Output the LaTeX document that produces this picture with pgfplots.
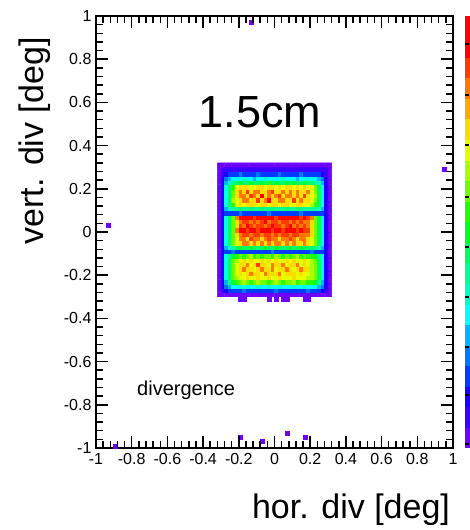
\documentclass[border=0pt]{standalone}
\usepackage{pgfplots}
\pgfplotsset{compat=1.18}
\usepackage{fontspec}
\setmainfont{Liberation Sans}
\definecolor{rootone}{RGB}{110,0,255}
\begin{document}
\begin{tikzpicture}
\useasboundingbox (0,0) rectangle (469pt,530pt);
\begin{axis}[
  at={(96pt,82pt)}, anchor=south west,
  scale only axis, width=357pt, height=432pt,
  xmin=-1, xmax=1, ymin=-1, ymax=1,
  max space between ticks=44,
  minor x tick num=4, minor y tick num=4,
  tick align=inside, tick pos=both,
  major tick length=12pt, minor tick length=6pt,
  axis line style={line width=1.4pt},
  tick style={draw=black, line width=1.3pt},
  ticklabel style={font=\fontsize{16}{16}\selectfont},
  xticklabel style={yshift=-2pt},
  yticklabel style={xshift=-1pt},
  /pgf/number format/assume math mode=true,
  colormap={root}{rgb255=(110,0,255) rgb255=(60,0,255) rgb255=(25,0,255) rgb255=(0,60,255) rgb255=(0,120,255) rgb255=(0,180,255) rgb255=(0,255,255) rgb255=(0,255,200) rgb255=(0,255,150) rgb255=(0,255,100) rgb255=(0,255,40) rgb255=(40,255,0) rgb255=(110,255,0) rgb255=(170,255,0) rgb255=(230,255,0) rgb255=(255,220,0) rgb255=(255,170,0) rgb255=(255,120,0) rgb255=(255,60,0) rgb255=(255,0,0) rgb255=(255,0,0)},
  colormap access=piecewise constant,
  point meta min=-0.19, point meta max=19.81,
  colorbar,
  colorbar style={
    at={(parent axis.north east)}, anchor=north west, xshift=3pt,
    width=13pt,
    ytick=\empty,
    axis line style={draw=none},
  },
]
\addplot[matrix plot*, mesh/cols=32, point meta=explicit] table[meta=z] {
x y z
-0.31 -0.29 0
-0.29 -0.29 0
-0.27 -0.29 0
-0.25 -0.29 0
-0.23 -0.29 0
-0.21 -0.29 0
-0.19 -0.29 0
-0.17 -0.29 0
-0.15 -0.29 0
-0.13 -0.29 0
-0.11 -0.29 0
-0.09 -0.29 0
-0.07 -0.29 0
-0.05 -0.29 0
-0.03 -0.29 0
-0.01 -0.29 0
0.01 -0.29 0
0.03 -0.29 0
0.05 -0.29 0
0.07 -0.29 0
0.09 -0.29 0
0.11 -0.29 0
0.13 -0.29 0
0.15 -0.29 0
0.17 -0.29 0
0.19 -0.29 0
0.21 -0.29 0
0.23 -0.29 0
0.25 -0.29 0
0.27 -0.29 0
0.29 -0.29 0
0.31 -0.29 0
-0.31 -0.27 0
-0.29 -0.27 1
-0.27 -0.27 2
-0.25 -0.27 3
-0.23 -0.27 3
-0.21 -0.27 3
-0.19 -0.27 3
-0.17 -0.27 4
-0.15 -0.27 3
-0.13 -0.27 3
-0.11 -0.27 3
-0.09 -0.27 3
-0.07 -0.27 3
-0.05 -0.27 3
-0.03 -0.27 3
-0.01 -0.27 3
0.01 -0.27 4
0.03 -0.27 3
0.05 -0.27 3
0.07 -0.27 3
0.09 -0.27 3
0.11 -0.27 3
0.13 -0.27 3
0.15 -0.27 3
0.17 -0.27 3
0.19 -0.27 4
0.21 -0.27 3
0.23 -0.27 3
0.25 -0.27 3
0.27 -0.27 2
0.29 -0.27 1
0.31 -0.27 0
-0.31 -0.25 0
-0.29 -0.25 2
-0.27 -0.25 4
-0.25 -0.25 5
-0.23 -0.25 6
-0.21 -0.25 6
-0.19 -0.25 7
-0.17 -0.25 6
-0.15 -0.25 7
-0.13 -0.25 6
-0.11 -0.25 6
-0.09 -0.25 7
-0.07 -0.25 6
-0.05 -0.25 6
-0.03 -0.25 7
-0.01 -0.25 6
0.01 -0.25 6
0.03 -0.25 7
0.05 -0.25 6
0.07 -0.25 6
0.09 -0.25 6
0.11 -0.25 7
0.13 -0.25 6
0.15 -0.25 6
0.17 -0.25 7
0.19 -0.25 6
0.21 -0.25 6
0.23 -0.25 6
0.25 -0.25 5
0.27 -0.25 4
0.29 -0.25 2
0.31 -0.25 0
-0.31 -0.23 0
-0.29 -0.23 2
-0.27 -0.23 5
-0.25 -0.23 8
-0.23 -0.23 10
-0.21 -0.23 11
-0.19 -0.23 12
-0.17 -0.23 13
-0.15 -0.23 12
-0.13 -0.23 11
-0.11 -0.23 12
-0.09 -0.23 13
-0.07 -0.23 12
-0.05 -0.23 12
-0.03 -0.23 11
-0.01 -0.23 12
0.01 -0.23 13
0.03 -0.23 12
0.05 -0.23 11
0.07 -0.23 12
0.09 -0.23 12
0.11 -0.23 13
0.13 -0.23 11
0.15 -0.23 12
0.17 -0.23 12
0.19 -0.23 11
0.21 -0.23 11
0.23 -0.23 10
0.25 -0.23 8
0.27 -0.23 5
0.29 -0.23 2
0.31 -0.23 0
-0.31 -0.21 0
-0.29 -0.21 2
-0.27 -0.21 6
-0.25 -0.21 9
-0.23 -0.21 12
-0.21 -0.21 13
-0.19 -0.21 14
-0.17 -0.21 14
-0.15 -0.21 15
-0.13 -0.21 14
-0.11 -0.21 14
-0.09 -0.21 15
-0.07 -0.21 14
-0.05 -0.21 14
-0.03 -0.21 15
-0.01 -0.21 14
0.01 -0.21 14
0.03 -0.21 15
0.05 -0.21 14
0.07 -0.21 14
0.09 -0.21 14
0.11 -0.21 15
0.13 -0.21 14
0.15 -0.21 14
0.17 -0.21 14
0.19 -0.21 13
0.21 -0.21 13
0.23 -0.21 12
0.25 -0.21 9
0.27 -0.21 6
0.29 -0.21 2
0.31 -0.21 0
-0.31 -0.19 0
-0.29 -0.19 2
-0.27 -0.19 6
-0.25 -0.19 9
-0.23 -0.19 12
-0.21 -0.19 14
-0.19 -0.19 15
-0.17 -0.19 14
-0.15 -0.19 15
-0.13 -0.19 16
-0.11 -0.19 15
-0.09 -0.19 15
-0.07 -0.19 14
-0.05 -0.19 16
-0.03 -0.19 15
-0.01 -0.19 15
0.01 -0.19 15
0.03 -0.19 16
0.05 -0.19 14
0.07 -0.19 15
0.09 -0.19 15
0.11 -0.19 15
0.13 -0.19 14
0.15 -0.19 15
0.17 -0.19 14
0.19 -0.19 14
0.21 -0.19 13
0.23 -0.19 12
0.25 -0.19 9
0.27 -0.19 6
0.29 -0.19 2
0.31 -0.19 0
-0.31 -0.17 0
-0.29 -0.17 2
-0.27 -0.17 6
-0.25 -0.17 9
-0.23 -0.17 12
-0.21 -0.17 14
-0.19 -0.17 15
-0.17 -0.17 16
-0.15 -0.17 15
-0.13 -0.17 15
-0.11 -0.17 14
-0.09 -0.17 15
-0.07 -0.17 16
-0.05 -0.17 15
-0.03 -0.17 15
-0.01 -0.17 16
0.01 -0.17 14
0.03 -0.17 15
0.05 -0.17 15
0.07 -0.17 16
0.09 -0.17 15
0.11 -0.17 14
0.13 -0.17 15
0.15 -0.17 16
0.17 -0.17 15
0.19 -0.17 15
0.21 -0.17 13
0.23 -0.17 12
0.25 -0.17 9
0.27 -0.17 6
0.29 -0.17 2
0.31 -0.17 0
-0.31 -0.15 0
-0.29 -0.15 2
-0.27 -0.15 6
-0.25 -0.15 9
-0.23 -0.15 12
-0.21 -0.15 14
-0.19 -0.15 15
-0.17 -0.15 15
-0.15 -0.15 16
-0.13 -0.15 14
-0.11 -0.15 15
-0.09 -0.15 17
-0.07 -0.15 15
-0.05 -0.15 15
-0.03 -0.15 14
-0.01 -0.15 16
0.01 -0.15 15
0.03 -0.15 15
0.05 -0.15 16
0.07 -0.15 14
0.09 -0.15 15
0.11 -0.15 15
0.13 -0.15 16
0.15 -0.15 14
0.17 -0.15 15
0.19 -0.15 14
0.21 -0.15 13
0.23 -0.15 12
0.25 -0.15 9
0.27 -0.15 6
0.29 -0.15 2
0.31 -0.15 0
-0.31 -0.13 0
-0.29 -0.13 2
-0.27 -0.13 6
-0.25 -0.13 9
-0.23 -0.13 12
-0.21 -0.13 13
-0.19 -0.13 14
-0.17 -0.13 15
-0.15 -0.13 14
-0.13 -0.13 15
-0.11 -0.13 14
-0.09 -0.13 14
-0.07 -0.13 15
-0.05 -0.13 14
-0.03 -0.13 15
-0.01 -0.13 14
0.01 -0.13 15
0.03 -0.13 14
0.05 -0.13 14
0.07 -0.13 15
0.09 -0.13 14
0.11 -0.13 15
0.13 -0.13 14
0.15 -0.13 14
0.17 -0.13 15
0.19 -0.13 14
0.21 -0.13 13
0.23 -0.13 12
0.25 -0.13 9
0.27 -0.13 6
0.29 -0.13 2
0.31 -0.13 0
-0.31 -0.11 0
-0.29 -0.11 2
-0.27 -0.11 6
-0.25 -0.11 8
-0.23 -0.11 10
-0.21 -0.11 11
-0.19 -0.11 12
-0.17 -0.11 11
-0.15 -0.11 12
-0.13 -0.11 13
-0.11 -0.11 11
-0.09 -0.11 12
-0.07 -0.11 11
-0.05 -0.11 12
-0.03 -0.11 12
-0.01 -0.11 11
0.01 -0.11 13
0.03 -0.11 12
0.05 -0.11 11
0.07 -0.11 12
0.09 -0.11 11
0.11 -0.11 12
0.13 -0.11 13
0.15 -0.11 11
0.17 -0.11 12
0.19 -0.11 11
0.21 -0.11 11
0.23 -0.11 10
0.25 -0.11 8
0.27 -0.11 6
0.29 -0.11 2
0.31 -0.11 0
-0.31 -0.09 0
-0.29 -0.09 2
-0.27 -0.09 3
-0.25 -0.09 3
-0.23 -0.09 4
-0.21 -0.09 3
-0.19 -0.09 3
-0.17 -0.09 3
-0.15 -0.09 3
-0.13 -0.09 3
-0.11 -0.09 3
-0.09 -0.09 3
-0.07 -0.09 3
-0.05 -0.09 3
-0.03 -0.09 3
-0.01 -0.09 4
0.01 -0.09 3
0.03 -0.09 3
0.05 -0.09 3
0.07 -0.09 3
0.09 -0.09 3
0.11 -0.09 3
0.13 -0.09 3
0.15 -0.09 3
0.17 -0.09 3
0.19 -0.09 3
0.21 -0.09 4
0.23 -0.09 3
0.25 -0.09 3
0.27 -0.09 3
0.29 -0.09 2
0.31 -0.09 0
-0.31 -0.07 0
-0.29 -0.07 2
-0.27 -0.07 5
-0.25 -0.07 7
-0.23 -0.07 8
-0.21 -0.07 9
-0.19 -0.07 10
-0.17 -0.07 9
-0.15 -0.07 9
-0.13 -0.07 10
-0.11 -0.07 9
-0.09 -0.07 9
-0.07 -0.07 9
-0.05 -0.07 10
-0.03 -0.07 9
-0.01 -0.07 9
0.01 -0.07 10
0.03 -0.07 9
0.05 -0.07 9
0.07 -0.07 9
0.09 -0.07 10
0.11 -0.07 9
0.13 -0.07 9
0.15 -0.07 10
0.17 -0.07 9
0.19 -0.07 9
0.21 -0.07 9
0.23 -0.07 8
0.25 -0.07 7
0.27 -0.07 5
0.29 -0.07 2
0.31 -0.07 0
-0.31 -0.05 0
-0.29 -0.05 2
-0.27 -0.05 6
-0.25 -0.05 9
-0.23 -0.05 12
-0.21 -0.05 14
-0.19 -0.05 15
-0.17 -0.05 16
-0.15 -0.05 16
-0.13 -0.05 15
-0.11 -0.05 16
-0.09 -0.05 15
-0.07 -0.05 16
-0.05 -0.05 15
-0.03 -0.05 16
-0.01 -0.05 15
0.01 -0.05 16
0.03 -0.05 16
0.05 -0.05 15
0.07 -0.05 16
0.09 -0.05 15
0.11 -0.05 16
0.13 -0.05 15
0.15 -0.05 15
0.17 -0.05 16
0.19 -0.05 15
0.21 -0.05 14
0.23 -0.05 12
0.25 -0.05 9
0.27 -0.05 6
0.29 -0.05 2
0.31 -0.05 0
-0.31 -0.03 0
-0.29 -0.03 2
-0.27 -0.03 6
-0.25 -0.03 9
-0.23 -0.03 12
-0.21 -0.03 14
-0.19 -0.03 16
-0.17 -0.03 16
-0.15 -0.03 15
-0.13 -0.03 17
-0.11 -0.03 16
-0.09 -0.03 16
-0.07 -0.03 15
-0.05 -0.03 16
-0.03 -0.03 17
-0.01 -0.03 16
0.01 -0.03 16
0.03 -0.03 15
0.05 -0.03 16
0.07 -0.03 16
0.09 -0.03 17
0.11 -0.03 16
0.13 -0.03 15
0.15 -0.03 16
0.17 -0.03 16
0.19 -0.03 15
0.21 -0.03 14
0.23 -0.03 12
0.25 -0.03 9
0.27 -0.03 6
0.29 -0.03 2
0.31 -0.03 0
-0.31 -0.01 0
-0.29 -0.01 2
-0.27 -0.01 6
-0.25 -0.01 9
-0.23 -0.01 12
-0.21 -0.01 15
-0.19 -0.01 16
-0.17 -0.01 17
-0.15 -0.01 17
-0.13 -0.01 16
-0.11 -0.01 17
-0.09 -0.01 17
-0.07 -0.01 16
-0.05 -0.01 17
-0.03 -0.01 17
-0.01 -0.01 16
0.01 -0.01 17
0.03 -0.01 16
0.05 -0.01 17
0.07 -0.01 17
0.09 -0.01 16
0.11 -0.01 17
0.13 -0.01 17
0.15 -0.01 16
0.17 -0.01 16
0.19 -0.01 16
0.21 -0.01 15
0.23 -0.01 12
0.25 -0.01 9
0.27 -0.01 6
0.29 -0.01 2
0.31 -0.01 0
-0.31 0.01 0
-0.29 0.01 2
-0.27 0.01 6
-0.25 0.01 9
-0.23 0.01 12
-0.21 0.01 16
-0.19 0.01 18
-0.17 0.01 18
-0.15 0.01 17
-0.13 0.01 19
-0.11 0.01 18
-0.09 0.01 17
-0.07 0.01 18
-0.05 0.01 18
-0.03 0.01 19
-0.01 0.01 17
0.01 0.01 18
0.03 0.01 18
0.05 0.01 17
0.07 0.01 18
0.09 0.01 18
0.11 0.01 19
0.13 0.01 17
0.15 0.01 18
0.17 0.01 17
0.19 0.01 17
0.21 0.01 15
0.23 0.01 12
0.25 0.01 9
0.27 0.01 6
0.29 0.01 2
0.31 0.01 0
-0.31 0.03 0
-0.29 0.03 2
-0.27 0.03 6
-0.25 0.03 9
-0.23 0.03 12
-0.21 0.03 15
-0.19 0.03 17
-0.17 0.03 16
-0.15 0.03 18
-0.13 0.03 17
-0.11 0.03 16
-0.09 0.03 17
-0.07 0.03 17
-0.05 0.03 16
-0.03 0.03 17
-0.01 0.03 18
0.01 0.03 17
0.03 0.03 17
0.05 0.03 16
0.07 0.03 17
0.09 0.03 18
0.11 0.03 16
0.13 0.03 17
0.15 0.03 16
0.17 0.03 17
0.19 0.03 16
0.21 0.03 15
0.23 0.03 12
0.25 0.03 9
0.27 0.03 6
0.29 0.03 2
0.31 0.03 0
-0.31 0.05 0
-0.29 0.05 2
-0.27 0.05 6
-0.25 0.05 9
-0.23 0.05 12
-0.21 0.05 15
-0.19 0.05 16
-0.17 0.05 17
-0.15 0.05 17
-0.13 0.05 16
-0.11 0.05 17
-0.09 0.05 16
-0.07 0.05 17
-0.05 0.05 18
-0.03 0.05 16
-0.01 0.05 17
0.01 0.05 17
0.03 0.05 16
0.05 0.05 17
0.07 0.05 17
0.09 0.05 16
0.11 0.05 17
0.13 0.05 16
0.15 0.05 17
0.17 0.05 16
0.19 0.05 16
0.21 0.05 15
0.23 0.05 12
0.25 0.05 9
0.27 0.05 6
0.29 0.05 2
0.31 0.05 0
-0.31 0.07 0
-0.29 0.07 2
-0.27 0.07 6
-0.25 0.07 9
-0.23 0.07 12
-0.21 0.07 16
-0.19 0.07 18
-0.17 0.07 19
-0.15 0.07 18
-0.13 0.07 18
-0.11 0.07 17
-0.09 0.07 19
-0.07 0.07 18
-0.05 0.07 19
-0.03 0.07 18
-0.01 0.07 18
0.01 0.07 17
0.03 0.07 18
0.05 0.07 19
0.07 0.07 18
0.09 0.07 18
0.11 0.07 19
0.13 0.07 18
0.15 0.07 17
0.17 0.07 18
0.19 0.07 17
0.21 0.07 16
0.23 0.07 12
0.25 0.07 9
0.27 0.07 6
0.29 0.07 2
0.31 0.07 0
-0.31 0.09 0
-0.29 0.09 2
-0.27 0.09 3
-0.25 0.09 3
-0.23 0.09 3
-0.21 0.09 3
-0.19 0.09 4
-0.17 0.09 3
-0.15 0.09 3
-0.13 0.09 3
-0.11 0.09 3
-0.09 0.09 3
-0.07 0.09 3
-0.05 0.09 3
-0.03 0.09 4
-0.01 0.09 3
0.01 0.09 3
0.03 0.09 3
0.05 0.09 3
0.07 0.09 3
0.09 0.09 3
0.11 0.09 3
0.13 0.09 3
0.15 0.09 4
0.17 0.09 3
0.19 0.09 3
0.21 0.09 3
0.23 0.09 3
0.25 0.09 3
0.27 0.09 3
0.29 0.09 2
0.31 0.09 0
-0.31 0.11 0
-0.29 0.11 2
-0.27 0.11 5
-0.25 0.11 7
-0.23 0.11 8
-0.21 0.11 8
-0.19 0.11 9
-0.17 0.11 8
-0.15 0.11 8
-0.13 0.11 9
-0.11 0.11 8
-0.09 0.11 8
-0.07 0.11 9
-0.05 0.11 8
-0.03 0.11 8
-0.01 0.11 9
0.01 0.11 8
0.03 0.11 8
0.05 0.11 8
0.07 0.11 9
0.09 0.11 8
0.11 0.11 8
0.13 0.11 9
0.15 0.11 8
0.17 0.11 8
0.19 0.11 8
0.21 0.11 8
0.23 0.11 8
0.25 0.11 7
0.27 0.11 5
0.29 0.11 2
0.31 0.11 0
-0.31 0.13 0
-0.29 0.13 2
-0.27 0.13 6
-0.25 0.13 9
-0.23 0.13 11
-0.21 0.13 14
-0.19 0.13 15
-0.17 0.13 14
-0.15 0.13 15
-0.13 0.13 15
-0.11 0.13 15
-0.09 0.13 14
-0.07 0.13 15
-0.05 0.13 15
-0.03 0.13 14
-0.01 0.13 15
0.01 0.13 15
0.03 0.13 14
0.05 0.13 15
0.07 0.13 15
0.09 0.13 14
0.11 0.13 14
0.13 0.13 15
0.15 0.13 15
0.17 0.13 14
0.19 0.13 14
0.21 0.13 13
0.23 0.13 11
0.25 0.13 9
0.27 0.13 6
0.29 0.13 2
0.31 0.13 0
-0.31 0.15 0
-0.29 0.15 2
-0.27 0.15 6
-0.25 0.15 9
-0.23 0.15 13
-0.21 0.15 14
-0.19 0.15 15
-0.17 0.15 16
-0.15 0.15 16
-0.13 0.15 15
-0.11 0.15 15
-0.09 0.15 17
-0.07 0.15 15
-0.05 0.15 16
-0.03 0.15 18
-0.01 0.15 15
0.01 0.15 15
0.03 0.15 16
0.05 0.15 16
0.07 0.15 15
0.09 0.15 15
0.11 0.15 17
0.13 0.15 15
0.15 0.15 16
0.17 0.15 15
0.19 0.15 15
0.21 0.15 14
0.23 0.15 12
0.25 0.15 9
0.27 0.15 6
0.29 0.15 2
0.31 0.15 0
-0.31 0.17 0
-0.29 0.17 2
-0.27 0.17 6
-0.25 0.17 9
-0.23 0.17 12
-0.21 0.17 15
-0.19 0.17 16
-0.17 0.17 16
-0.15 0.17 15
-0.13 0.17 17
-0.11 0.17 16
-0.09 0.17 15
-0.07 0.17 18
-0.05 0.17 15
-0.03 0.17 16
-0.01 0.17 15
0.01 0.17 16
0.03 0.17 17
0.05 0.17 15
0.07 0.17 16
0.09 0.17 16
0.11 0.17 15
0.13 0.17 16
0.15 0.17 15
0.17 0.17 17
0.19 0.17 15
0.21 0.17 14
0.23 0.17 13
0.25 0.17 9
0.27 0.17 6
0.29 0.17 2
0.31 0.17 0
-0.31 0.19 0
-0.29 0.19 2
-0.27 0.19 6
-0.25 0.19 9
-0.23 0.19 12
-0.21 0.19 15
-0.19 0.19 16
-0.17 0.19 15
-0.15 0.19 17
-0.13 0.19 15
-0.11 0.19 16
-0.09 0.19 16
-0.07 0.19 15
-0.05 0.19 15
-0.03 0.19 16
-0.01 0.19 17
0.01 0.19 15
0.03 0.19 15
0.05 0.19 16
0.07 0.19 15
0.09 0.19 16
0.11 0.19 15
0.13 0.19 16
0.15 0.19 15
0.17 0.19 15
0.19 0.19 16
0.21 0.19 14
0.23 0.19 12
0.25 0.19 9
0.27 0.19 6
0.29 0.19 2
0.31 0.19 0
-0.31 0.21 0
-0.29 0.21 2
-0.27 0.21 6
-0.25 0.21 9
-0.23 0.21 11
-0.21 0.21 14
-0.19 0.21 15
-0.17 0.21 15
-0.15 0.21 15
-0.13 0.21 14
-0.11 0.21 14
-0.09 0.21 15
-0.07 0.21 15
-0.05 0.21 14
-0.03 0.21 15
-0.01 0.21 15
0.01 0.21 14
0.03 0.21 15
0.05 0.21 14
0.07 0.21 15
0.09 0.21 15
0.11 0.21 14
0.13 0.21 15
0.15 0.21 14
0.17 0.21 15
0.19 0.21 14
0.21 0.21 14
0.23 0.21 12
0.25 0.21 9
0.27 0.21 6
0.29 0.21 2
0.31 0.21 0
-0.31 0.23 0
-0.29 0.23 2
-0.27 0.23 5
-0.25 0.23 7
-0.23 0.23 8
-0.21 0.23 9
-0.19 0.23 10
-0.17 0.23 9
-0.15 0.23 9
-0.13 0.23 10
-0.11 0.23 9
-0.09 0.23 9
-0.07 0.23 10
-0.05 0.23 9
-0.03 0.23 11
-0.01 0.23 9
0.01 0.23 10
0.03 0.23 9
0.05 0.23 9
0.07 0.23 10
0.09 0.23 9
0.11 0.23 10
0.13 0.23 9
0.15 0.23 9
0.17 0.23 10
0.19 0.23 9
0.21 0.23 9
0.23 0.23 8
0.25 0.23 7
0.27 0.23 5
0.29 0.23 2
0.31 0.23 0
-0.31 0.25 0
-0.29 0.25 2
-0.27 0.25 4
-0.25 0.25 5
-0.23 0.25 6
-0.21 0.25 6
-0.19 0.25 6
-0.17 0.25 7
-0.15 0.25 6
-0.13 0.25 6
-0.11 0.25 5
-0.09 0.25 6
-0.07 0.25 6
-0.05 0.25 7
-0.03 0.25 6
-0.01 0.25 6
0.01 0.25 6
0.03 0.25 6
0.05 0.25 7
0.07 0.25 6
0.09 0.25 6
0.11 0.25 6
0.13 0.25 5
0.15 0.25 6
0.17 0.25 6
0.19 0.25 7
0.21 0.25 6
0.23 0.25 6
0.25 0.25 5
0.27 0.25 4
0.29 0.25 2
0.31 0.25 0
-0.31 0.27 0
-0.29 0.27 1
-0.27 0.27 2
-0.25 0.27 3
-0.23 0.27 3
-0.21 0.27 3
-0.19 0.27 4
-0.17 0.27 3
-0.15 0.27 3
-0.13 0.27 3
-0.11 0.27 3
-0.09 0.27 4
-0.07 0.27 3
-0.05 0.27 3
-0.03 0.27 3
-0.01 0.27 3
0.01 0.27 3
0.03 0.27 4
0.05 0.27 3
0.07 0.27 3
0.09 0.27 3
0.11 0.27 3
0.13 0.27 3
0.15 0.27 4
0.17 0.27 3
0.19 0.27 3
0.21 0.27 3
0.23 0.27 3
0.25 0.27 3
0.27 0.27 2
0.29 0.27 1
0.31 0.27 0
-0.31 0.29 0
-0.29 0.29 1
-0.27 0.29 1
-0.25 0.29 1
-0.23 0.29 1
-0.21 0.29 1
-0.19 0.29 1
-0.17 0.29 1
-0.15 0.29 1
-0.13 0.29 1
-0.11 0.29 1
-0.09 0.29 1
-0.07 0.29 1
-0.05 0.29 1
-0.03 0.29 1
-0.01 0.29 1
0.01 0.29 1
0.03 0.29 1
0.05 0.29 1
0.07 0.29 1
0.09 0.29 1
0.11 0.29 1
0.13 0.29 1
0.15 0.29 1
0.17 0.29 1
0.19 0.29 1
0.21 0.29 1
0.23 0.29 1
0.25 0.29 1
0.27 0.29 1
0.29 0.29 1
0.31 0.29 0
-0.31 0.31 0
-0.29 0.31 0
-0.27 0.31 0
-0.25 0.31 0
-0.23 0.31 0
-0.21 0.31 0
-0.19 0.31 0
-0.17 0.31 0
-0.15 0.31 0
-0.13 0.31 0
-0.11 0.31 0
-0.09 0.31 0
-0.07 0.31 0
-0.05 0.31 0
-0.03 0.31 0
-0.01 0.31 0
0.01 0.31 0
0.03 0.31 0
0.05 0.31 0
0.07 0.31 0
0.09 0.31 0
0.11 0.31 0
0.13 0.31 0
0.15 0.31 0
0.17 0.31 0
0.19 0.31 0
0.21 0.31 0
0.23 0.31 0
0.25 0.31 0
0.27 0.31 0
0.29 0.31 0
0.31 0.31 0
};
% tabs below the box
\addplot[only marks, mark=square*, mark size=2pt, color=rootone] coordinates {
(-0.19,-0.31) (-0.17,-0.31) (-0.03,-0.31) (0.01,-0.31) (0.05,-0.31) (0.07,-0.31) (0.17,-0.31) (0.19,-0.31)
};
% isolated entries
\addplot[only marks, mark=square*, mark size=2pt, color=rootone] coordinates {
(-0.13,0.97) (-0.93,0.03) (0.95,0.29) (-0.89,-0.99) (-0.19,-0.95) (-0.07,-0.97) (0.07,-0.93) (0.17,-0.95)
};
\end{axis}
% frame ticks (ROOT style: inside, on all four sides)
\begin{scope}[x=1pt, y=1pt, line width=1.5pt, black]
\foreach \k in {1,...,49} {
  \draw (96+\k*7.14,82) -- (96+\k*7.14,89);
  \draw (96+\k*7.14,514) -- (96+\k*7.14,507);
  \draw (96,82+\k*8.64) -- (103,82+\k*8.64);
  \draw (453,82+\k*8.64) -- (446,82+\k*8.64);
}
\foreach \k in {1,...,9} {
  \draw (96+\k*35.7,82) -- (96+\k*35.7,94);
  \draw (96+\k*35.7,514) -- (96+\k*35.7,502);
  \draw (96,82+\k*43.2) -- (108,82+\k*43.2);
  \draw (453,82+\k*43.2) -- (441,82+\k*43.2);
}
\foreach \yy in {86,135,183,233,283,333,385,435,486} {
  \draw (465,\yy) -- (469,\yy);
}
\end{scope}
\node[font=\fontsize{45}{45}\selectfont, anchor=base, inner sep=0pt] at (260pt,402pt) {1.5cm};
\node[font=\fontsize{20}{20}\selectfont, anchor=base west, inner sep=0pt] at (137pt,134pt) {divergence};
\node[font=\fontsize{34}{34}\selectfont, anchor=base, inner sep=0pt] at (351pt,11pt) {hor. div [deg]};
\node[font=\fontsize{34}{34}\selectfont, anchor=base, rotate=90, inner sep=0pt] at (43pt,389pt) {vert. div [deg]};
\end{tikzpicture}
\end{document}
